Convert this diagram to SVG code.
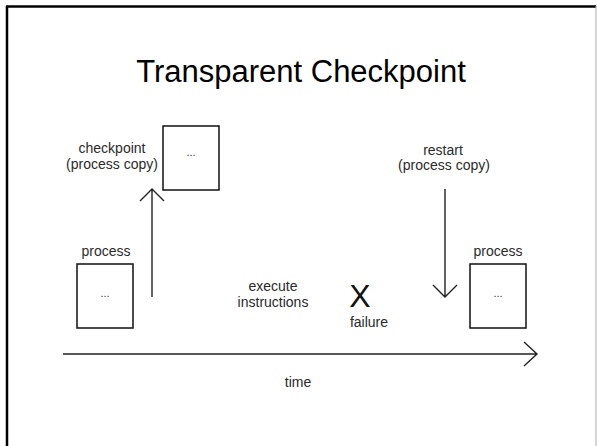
<svg xmlns="http://www.w3.org/2000/svg" width="597" height="446" viewBox="0 0 597 446">
<style>
.lbl{font-family:"Liberation Sans",Arial,sans-serif;font-size:14px;fill:#2a2a2a;text-anchor:middle}
.box{fill:#fff;stroke:#111;stroke-width:1.5}
.ln{fill:none;stroke:#222;stroke-width:1.4}
.dots{font-family:"Liberation Sans",Arial,sans-serif;font-size:11px;fill:#333;text-anchor:middle}
</style>
<rect width="597" height="446" fill="#fff"/>
<g id="frame">
<line x1="7" y1="6" x2="7" y2="446" stroke="#000" stroke-width="2.5"/>
<line x1="6" y1="6.5" x2="596" y2="6.5" stroke="#000" stroke-width="2.5"/>
<line x1="596" y1="6" x2="596" y2="446" stroke="#aaa" stroke-width="1"/>
</g>
<text id="title" x="301" y="82" font-family="'Liberation Sans',Arial,sans-serif" font-size="31" fill="#000" text-anchor="middle">Transparent Checkpoint</text>
<g id="connectors">
<path class="ln" d="M152,297 V190 M140,201 L152,189 L164,201"/>
<path class="ln" d="M445,189 V297 M433,285 L445,297 L457,285"/>
<path class="ln" d="M63,354 H537 M524,342 L537,354 L524,366"/>
</g>
<g id="checkpoint">
<rect class="box" x="163" y="126" width="56" height="64"/>
<text class="dots" x="191" y="156">...</text>
<text class="lbl" x="112" y="153">checkpoint</text>
<text class="lbl" x="112" y="169">(process copy)</text>
</g>
<g id="process-left">
<text class="lbl" x="106" y="256">process</text>
<rect class="box" x="77" y="264" width="56" height="64"/>
<text class="dots" x="105" y="297">...</text>
</g>
<g id="execute">
<text class="lbl" x="273" y="291">execute</text>
<text class="lbl" x="273" y="307">instructions</text>
</g>
<g id="failure">
<text x="360" y="307" font-family="'Liberation Sans',Arial,sans-serif" font-size="32" fill="#111" text-anchor="middle">X</text>
<text class="lbl" x="369" y="327">failure</text>
</g>
<g id="restart">
<text class="lbl" x="443" y="155">restart</text>
<text class="lbl" x="444" y="170">(process copy)</text>
</g>
<g id="process-right">
<text class="lbl" x="498" y="256">process</text>
<rect class="box" x="470" y="264" width="56" height="64"/>
<text class="dots" x="498" y="297">...</text>
</g>
<text id="time" class="lbl" x="298" y="387">time</text>
</svg>
